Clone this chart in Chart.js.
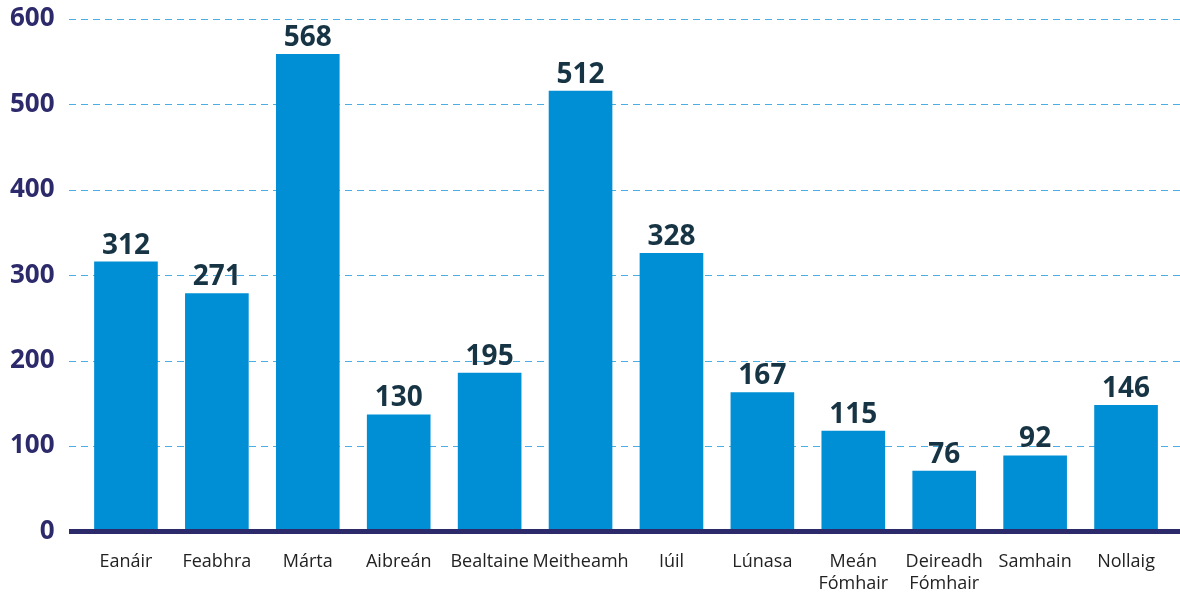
<!DOCTYPE html>
<html>
<head>
<meta charset="utf-8">
<script src="https://cdn.jsdelivr.net/npm/chart.js@4/dist/chart.umd.min.js"></script>
<style>
  html, body { margin: 0; padding: 0; background: #fff; }
  #wrap { width: 1180px; height: 592px; position: relative; }
</style>
</head>
<body>
<div id="wrap"><canvas id="chart"></canvas></div>
<script>
const months = ["Eanáir", "Feabhra", "Márta", "Aibreán", "Bealtaine", "Meitheamh", "Iúil", "Lúnasa",
    ["Meán", "Fómhair"], ["Deireadh", "Fómhair"], "Samhain", "Nollaig"];
// printed values above the bars
const counts = [312, 271, 568, 130, 195, 512, 328, 167, 115, 76, 92, 146];
// bar heights as drawn in the picture (they don't quite match the printed values)
const barHeights = [316, 279, 559, 137, 186, 516, 326, 163, 118, 71, 89, 148];
const yTicks = [0, 100, 200, 300, 400, 500, 600];

const navy = "#2d2a6b";
const barBlue = "#008fd5";

// dashed grid lines and the thick base line run wider than the bars
const gridPlugin = {
    id: 'gridLines',
    beforeDatasetsDraw(chart) {
        const ctx = chart.ctx;
        const y = chart.scales.y;
        ctx.save();
        ctx.strokeStyle = "#4aaee3";
        ctx.lineWidth = 1;
        ctx.setLineDash([7, 5]);
        yTicks.forEach(t => {
            if (t === 0) return;
            const py = Math.round(y.getPixelForValue(t)) + 0.5;
            ctx.beginPath();
            ctx.moveTo(69, py);
            ctx.lineTo(1180, py);
            ctx.stroke();
        });
        ctx.restore();
    },
    afterDatasetsDraw(chart) {
        const ctx = chart.ctx;
        const y = chart.scales.y;
        ctx.save();
        ctx.fillStyle = navy;
        const py = y.getPixelForValue(0);
        ctx.fillRect(69, py - 2.5, 1111, 5);

        // value labels above the bars
        ctx.fillStyle = "#173444";
        ctx.font = "bold 28px 'Open Sans'";
        ctx.textAlign = "center";
        ctx.textBaseline = "alphabetic";
        chart.getDatasetMeta(0).data.forEach((bar, i) => {
            ctx.fillText(String(counts[i]), bar.x, bar.y - 8);
        });
        ctx.restore();
    }
};

new Chart(document.getElementById('chart'), {
    type: 'bar',
    data: {
        labels: months,
        datasets: [{
            data: barHeights,
            backgroundColor: barBlue,
            barPercentage: 0.7,
            categoryPercentage: 1.0,
        }]
    },
    options: {
        responsive: true,
        maintainAspectRatio: false,
        animation: false,
        layout: { padding: { top: 19, right: 8.5, left: 0, bottom: 0 } },
        plugins: {
            legend: { display: false },
            tooltip: { enabled: false }
        },
        scales: {
            x: {
                grid: { display: false, drawTicks: false },
                border: { display: false },
                ticks: {
                    color: "#222",
                    font: { family: "'Open Sans'", size: 18, lineHeight: 1.25 },
                    padding: 19,
                    maxRotation: 0,
                    autoSkip: false
                },
                afterFit(scale) {
                    scale.height = 60.5;
                    scale.paddingLeft = 0;
                    scale.paddingRight = 0;
                }
            },
            y: {
                min: 0,
                max: 600,
                grid: { display: false, drawTicks: false },
                border: { display: false },
                afterBuildTicks(scale) { scale.ticks = yTicks.map(v => ({ value: v })); },
                ticks: {
                    color: navy,
                    font: { family: "'Open Sans'", size: 26, weight: 'bold' },
                    padding: 26
                },
                afterFit(scale) {
                    scale.width = 80.5;
                    scale.paddingTop = 0;
                    scale.paddingBottom = 0;
                }
            }
        }
    },
    plugins: [gridPlugin]
});
</script>
</body>
</html>
